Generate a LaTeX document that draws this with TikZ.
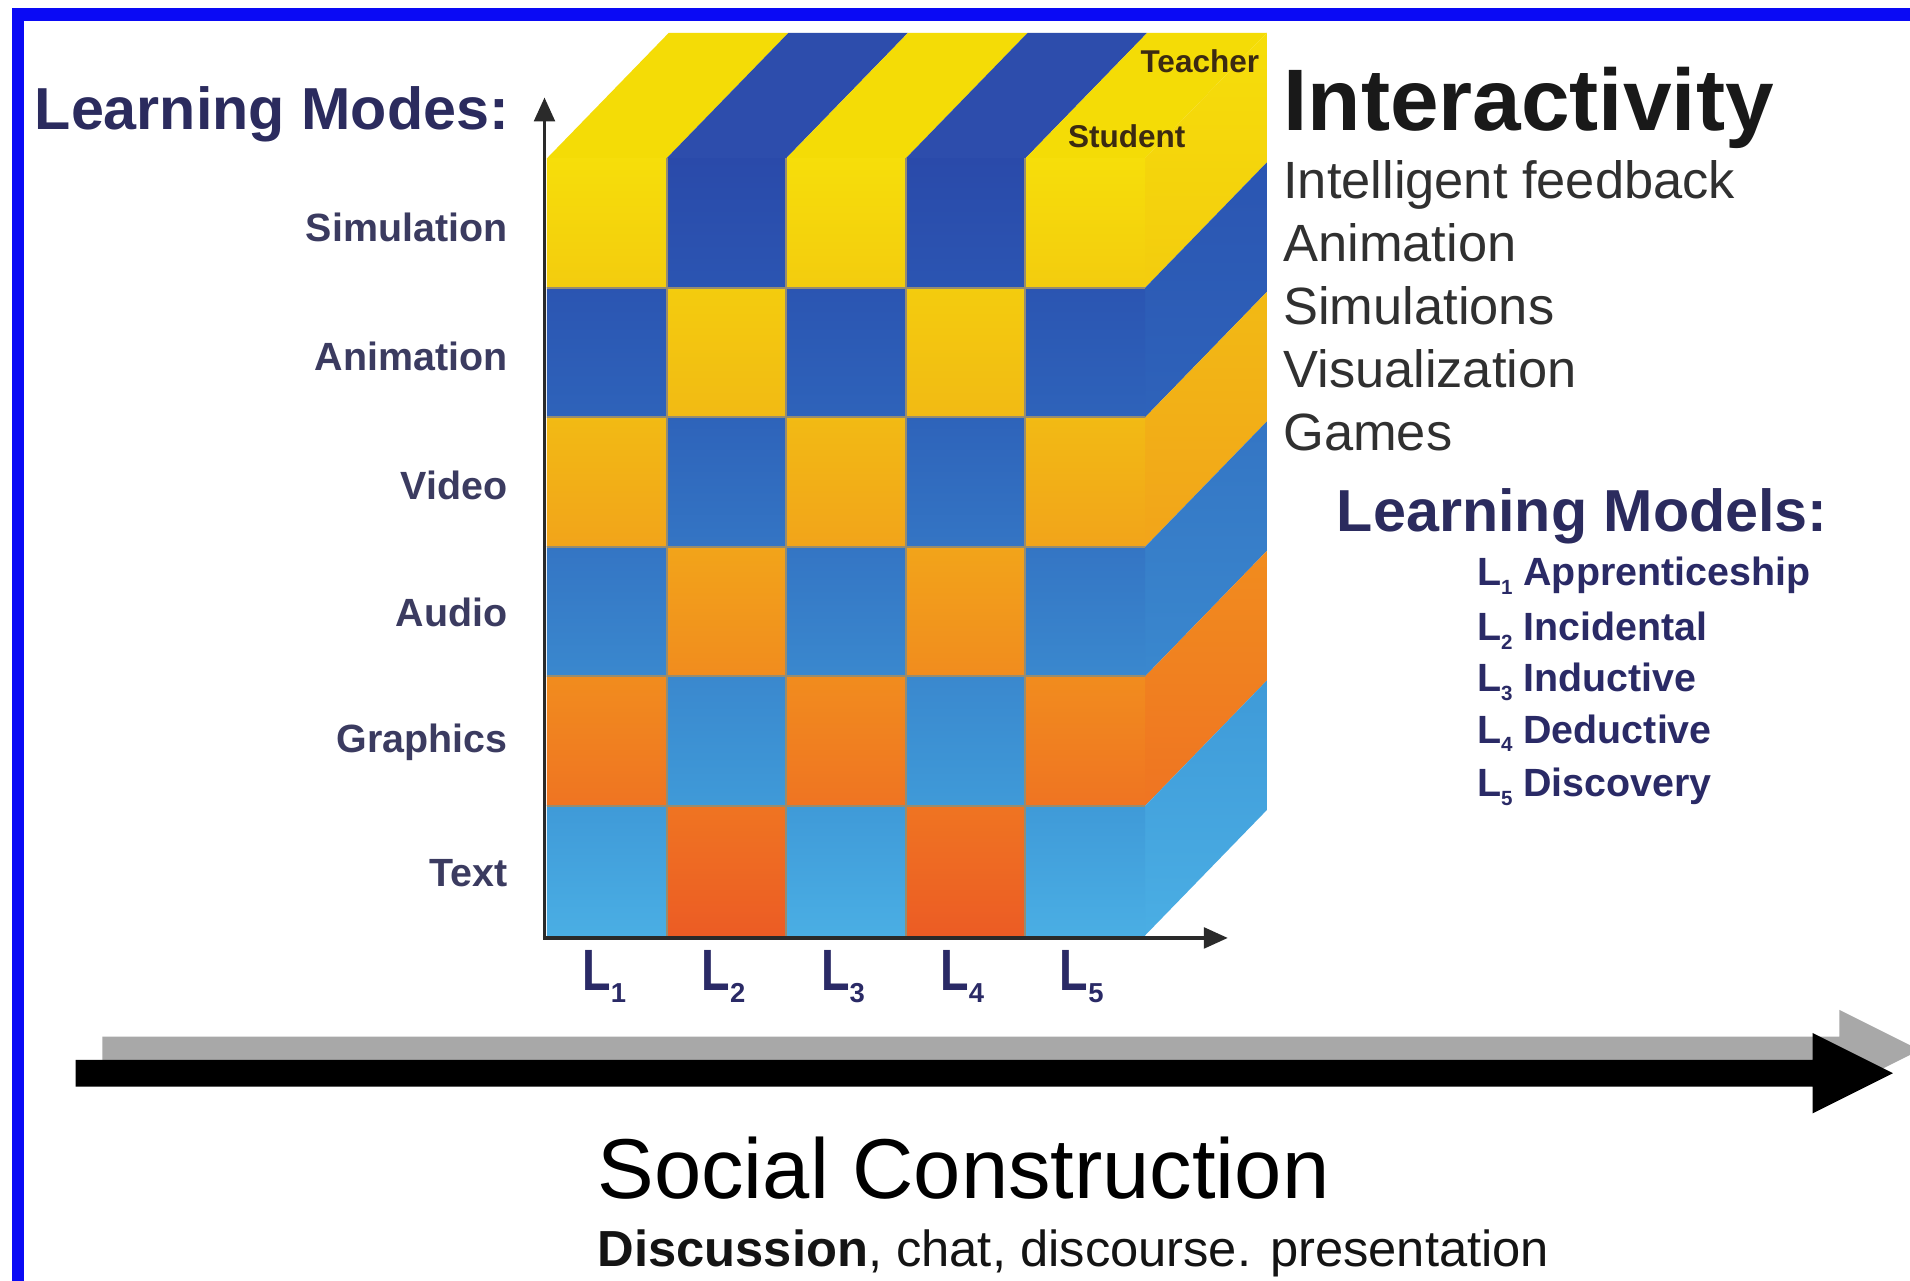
\documentclass[tikz,border=0pt]{standalone}
\usepackage{fontspec}
\setmainfont{Liberation Sans}
\usetikzlibrary{arrows.meta}
\newcommand\myfs[1]{\fontsize{#1}{#1}\selectfont}
\definecolor{w0}{HTML}{F6DE0A}
\definecolor{w1}{HTML}{F3CC0E}
\definecolor{w2}{HTML}{F2BA14}
\definecolor{w3}{HTML}{F2A41A}
\definecolor{w4}{HTML}{F18C1E}
\definecolor{w5}{HTML}{EF7422}
\definecolor{w6}{HTML}{EC5C24}
\definecolor{b0}{HTML}{2A4AAA}
\definecolor{b1}{HTML}{2B55B2}
\definecolor{b2}{HTML}{2E63BA}
\definecolor{b3}{HTML}{3475C4}
\definecolor{b4}{HTML}{3A88CE}
\definecolor{b5}{HTML}{3F9AD8}
\definecolor{b6}{HTML}{4AAEE4}
\definecolor{topY}{HTML}{F4DC06}
\definecolor{topB}{HTML}{2D4DAC}
\definecolor{framecol}{HTML}{0A0AF5}
\definecolor{modesnavy}{HTML}{2B2B5E}
\definecolor{labelnavy}{HTML}{3B3B60}
\definecolor{Lnavy}{HTML}{2A2A66}
\definecolor{tsbrown}{HTML}{3B2A12}
\definecolor{gridcol}{HTML}{968C70}
\definecolor{axiscol}{HTML}{2A2A2A}
\definecolor{arrgray}{HTML}{A8A8A8}
\definecolor{listgray}{HTML}{303030}
\tikzset{
  modelabel/.style={anchor=base east,inner sep=0pt,font={\myfs{11.5}\bfseries},text=labelnavy},
  headline/.style={anchor=base west,inner sep=0pt,font={\myfs{17.3}\bfseries},text=modesnavy},
  interitem/.style={anchor=base west,inner sep=0pt,font={\myfs{15.3}},text=listgray},
  modelitem/.style={anchor=base west,inner sep=0pt,font={\myfs{11.5}\bfseries},text=Lnavy},
  tslabel/.style={inner sep=0pt,font={\myfs{9.2}\bfseries},text=tsbrown},
  axislabel/.style={inner sep=0pt,font={\myfs{17}\bfseries},text=Lnavy},
  axisline/.style={draw=axiscol,line width=1.1pt,-{Triangle[length=7pt,width=6pt]}},
  gridline/.style={draw=gridcol,line width=0.6pt},
}
\newcommand\Lsub[1]{\scalebox{0.8}[1]{L}\raisebox{-3.5pt}{\myfs{8}\bfseries #1}}
\newcommand\Lsmall[1]{L\raisebox{-2.5pt}{\myfs{6}\bfseries #1}}
\begin{document}
\begin{tikzpicture}[x=0.0125cm,y=-0.0125cm]
\useasboundingbox (0,0) rectangle (1568,1051);
\clip (0,0) rectangle (1568,1051);
\fill[white] (0,0) rectangle (1568,1051);

% top face stripes
\foreach \c in {1,...,5}{
  \pgfmathsetmacro\xa{449+(\c-1)*98.2}
  \pgfmathsetmacro\xb{\xa+98.2}
  \pgfmathtruncatemacro\cpar{mod(\c,2)}
  \ifnum\cpar=1 \def\tcol{topY}\else\def\tcol{topB}\fi
  \fill[\tcol] (\xa,130) -- (\xb,130) -- ({\xb+100},27) -- ({\xa+100},27) -- cycle;
}
% side face rows
\foreach \r in {1,...,6}{
  \pgfmathsetmacro\ya{130+(\r-1)*106.33}
  \pgfmathsetmacro\yb{\ya+106.33}
  \pgfmathtruncatemacro\rp{\r-1}
  \pgfmathtruncatemacro\spar{mod(\r+5,2)}
  \ifnum\spar=0 \def\cpre{w}\else\def\cpre{b}\fi
  \shade[top color=\cpre\rp, bottom color=\cpre\r] (940,\ya) -- (1040,{\ya-103}) -- (1040,{\yb-103}) -- (940,\yb) -- cycle;
}
% front face cells
\foreach \r in {1,...,6}{
  \foreach \c in {1,...,5}{
    \pgfmathsetmacro\xa{449+(\c-1)*98.2}
    \pgfmathsetmacro\xb{\xa+98.2}
    \pgfmathsetmacro\ya{130+(\r-1)*106.33}
    \pgfmathsetmacro\yb{\ya+106.33}
    \pgfmathtruncatemacro\rp{\r-1}
    \pgfmathtruncatemacro\fpar{mod(\r+\c,2)}
    \ifnum\fpar=0 \def\cpre{w}\else\def\cpre{b}\fi
    \shade[top color=\cpre\rp, bottom color=\cpre\r] (\xa,\ya) rectangle (\xb,\yb);
  }
}
% grid lines on the front face
\foreach \c in {1,...,4}{
  \pgfmathsetmacro\xg{449+\c*98.2}
  \draw[gridline] (\xg,130) -- (\xg,768);
}
\foreach \r in {1,...,5}{
  \pgfmathsetmacro\yg{130+\r*106.33}
  \draw[gridline] (449,\yg) -- (940,\yg);
}

% axes
\coordinate (O) at (447,770);
\coordinate (ytip) at (447,80);
\coordinate (xtip) at (1008,770);
\draw[axisline] (O) -- (ytip);
\draw[axisline] ([xshift=-0.5pt]O) -- (xtip);

% Teacher / Student
\node[tslabel] (teacher) at (985,50) {Teacher};
\node[tslabel] (student) at (925,112) {Student};

% left labels
\node[headline] (modes) at (28,106) {Learning Modes:};
\node[modelabel] (mSim) at (417,198) {Simulation};
\node[modelabel] (mAni) at (417,304) {Animation};
\node[modelabel] (mVid) at (417,410) {Video};
\node[modelabel] (mAud) at (417,514) {Audio};
\node[modelabel] (mGra) at (417,618) {Graphics};
\node[modelabel] (mTxt) at (417,728) {Text};

% L labels under x axis
\node[axislabel] (L1) at (496,802) {\Lsub{1}};
\node[axislabel] (L2) at (594,802) {\Lsub{2}};
\node[axislabel] (L3) at (692,802) {\Lsub{3}};
\node[axislabel] (L4) at (790,802) {\Lsub{4}};
\node[axislabel] (L5) at (888,802) {\Lsub{5}};

% Interactivity
\node[anchor=base west,inner sep=0pt,font={\myfs{25.5}\bfseries},text=black!90] (inter) at (1053,107) {Interactivity};
\node[interitem] (i1) at (1053,163) {Intelligent feedback};
\node[interitem] (i2) at (1053,215) {Animation};
\node[interitem] (i3) at (1053,266) {Simulations};
\node[interitem] (i4) at (1053,318) {Visualization};
\node[interitem] (i5) at (1053,370) {Games};

% Learning models
\node[headline] (models) at (1097,436) {Learning Models:};
\node[modelitem] (lm1) at (1212,481) {\Lsmall{1} Apprenticeship};
\node[modelitem] (lm2) at (1212,526) {\Lsmall{2} Incidental};
\node[modelitem] (lm3) at (1212,568) {\Lsmall{3} Inductive};
\node[modelitem] (lm4) at (1212,610) {\Lsmall{4} Deductive};
\node[modelitem] (lm5) at (1212,654) {\Lsmall{5} Discovery};

% big arrow with gray shadow
\fill[arrgray, shift={(22,-19)}] (62,870) -- (1488,870) -- (1488,848) -- (1554,881) -- (1488,914) -- (1488,892) -- (62,892) -- cycle;
\fill[black] (62,870) -- (1488,870) -- (1488,848) -- (1554,881) -- (1488,914) -- (1488,892) -- (62,892) -- cycle;

% Social construction
\node[anchor=base west,inner sep=0pt,font={\myfs{24.8}},text=black] (social) at (490,984) {Social Construction};
\node[anchor=base west,inner sep=0pt,font={\myfs{14.8}},text=black!92] (disc) at (490,1040) {\textbf{Discussion}, chat, discourse. presentation};

% blue frame
\draw[framecol,line width=3.6pt] (15,1100) -- (15,12) -- (1620,12);
\end{tikzpicture}
\end{document}
